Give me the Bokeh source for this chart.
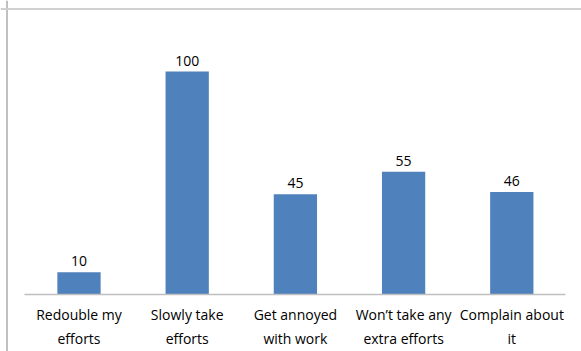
from bokeh.plotting import figure
from bokeh.models import Range1d, Span, ColumnDataSource
from bokeh.core.properties import value
from bokeh.embed import file_html
from bokeh.resources import INLINE

categories = ["Redouble my\nefforts", "Slowly take\nefforts", "Get annoyed\nwith work",
              "Won\u2019t take any\nextra efforts", "Complain about\nit"]
counts = [10, 100, 45, 55, 46]
count_labels = [str(v) for v in counts]

W, H = 581, 351
# pixel layout of the reference
x0_px, step_px = 78.5, 108.2        # first category centre, category spacing
y0_px, unit_px = 294.0, 2.23        # baseline of value 0, pixels per unit

xs = list(range(len(categories)))
src = ColumnDataSource(dict(x=xs, top=counts, cat=categories, lab=count_labels))

p = figure(width=W, height=H, output_backend="svg", toolbar_location=None,
           x_range=Range1d((0 - x0_px) / step_px, (W - x0_px) / step_px),
           y_range=Range1d(-(H - y0_px) / unit_px, y0_px / unit_px),
           min_border_left=0, min_border_right=0, min_border_top=0, min_border_bottom=0)
p.axis.visible = False
p.grid.visible = False
p.outline_line_color = None
p.background_fill_color = "white"
p.border_fill_color = "white"

font = value("Open Sans")

p.vbar(x="x", top="top", bottom=0, width=0.4, source=src,
       fill_color="#4F81BD", line_color=None)

# x axis line (value 0), spanning plot area
ax_left = (24 - x0_px) / step_px
ax_right = (565 - x0_px) / step_px
p.segment(x0=[ax_left], y0=[0], x1=[ax_right], y1=[0], line_color="#bfbfbf", line_width=1.5)

p.text(x="x", y="top", text="lab", source=src, text_font=font, text_font_size="14px",
       text_align="center", text_baseline="alphabetic", y_offset=-11, text_color="#000000")

p.text(x="x", y=0, text="cat", source=src, text_font=font, text_font_size="14px",
       text_align="center", text_baseline="top", y_offset=10, text_line_height=1.3,
       text_color="#000000")

# chart border (left and top edges visible)
p.add_layout(Span(location=(6.5 - x0_px) / step_px, dimension="height",
                  line_color="#c0c0c0", line_width=2))
p.add_layout(Span(location=(y0_px - 8.5) / unit_px, dimension="width",
                  line_color="#d0d0d0", line_width=2))

open("out.html", "w").write(file_html(p, INLINE))
